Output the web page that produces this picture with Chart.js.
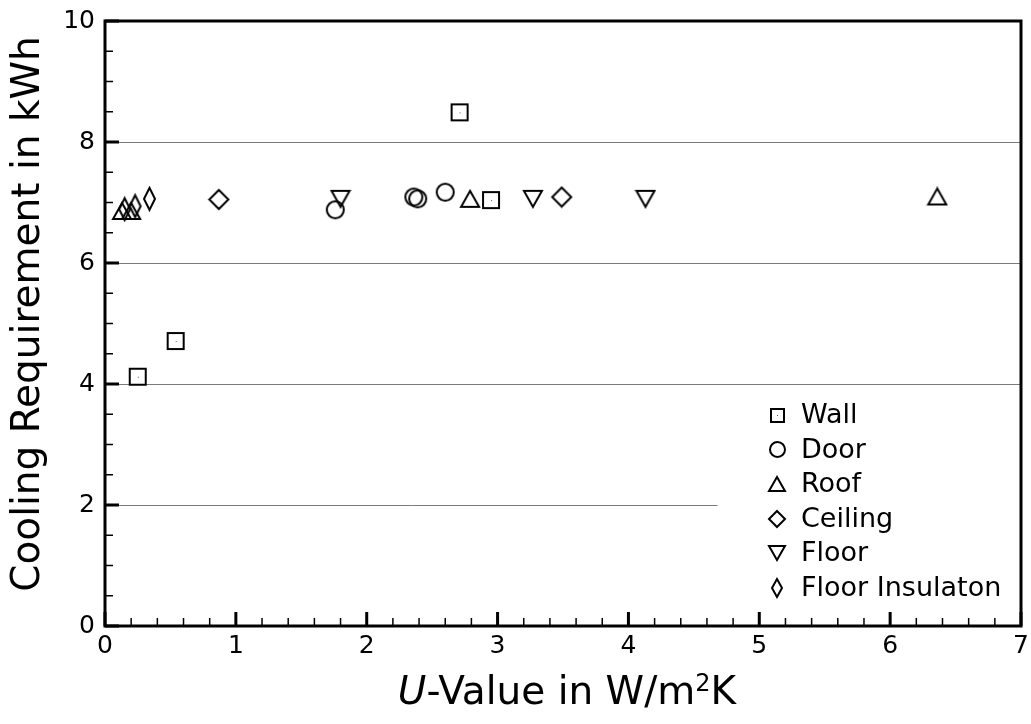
<!DOCTYPE html>
<html>
<head>
<meta charset="utf-8">
<script src="https://cdn.jsdelivr.net/npm/chart.js@4.4.0/dist/chart.umd.min.js"></script>
<style>
  html, body { margin: 0; padding: 0; background: #fff; }
  #wrap { width: 1031px; height: 724px; }
</style>
</head>
<body>
<div id="wrap"><canvas id="coolingChart"></canvas></div>
<script>
// values (U in W/m2K, cooling in kWh)
const seriesNames = ['Wall', 'Door', 'Roof', 'Ceiling', 'Floor', 'Floor Insulaton'];

const wallU = [0.25, 0.54, 2.71, 2.95];
const wallKWh = [4.12, 4.71, 8.49, 7.04];

const doorU = [1.76, 2.36, 2.39, 2.60];
const doorKWh = [6.88, 7.09, 7.06, 7.17];

const roofU = [0.13, 0.20, 2.79, 6.36];
const roofKWh = [6.86, 6.86, 7.06, 7.10];

const ceilingU = [0.87, 3.49];
const ceilingKWh = [7.05, 7.09];

const floorU = [1.80, 3.27, 4.13];
const floorKWh = [7.06, 7.06, 7.06];

const floorInsU = [0.15, 0.23, 0.34];
const floorInsKWh = [6.89, 6.94, 7.06];

const xTicks = [0, 1, 2, 3, 4, 5, 6, 7];
const yTicks = [0, 2, 4, 6, 8, 10];
const gridValues = [2, 4, 6, 8];

const FONT = "'DejaVu Sans', Verdana, sans-serif";

// hollow marker sprites
function makeMarker(shape, w, h) {
  const pad = 2;
  const c = document.createElement('canvas');
  c.width = w + pad * 2;
  c.height = h + pad * 2;
  const g = c.getContext('2d');
  g.strokeStyle = '#000';
  g.lineWidth = 2;
  g.lineJoin = 'miter';
  const cx = c.width / 2, cy = c.height / 2;
  g.beginPath();
  if (shape === 'square') {
    g.rect(pad, pad, w, h);
  } else if (shape === 'circle') {
    g.arc(cx, cy, w / 2, 0, Math.PI * 2);
  } else if (shape === 'up') {
    g.moveTo(cx, pad);
    g.lineTo(pad + w, pad + h);
    g.lineTo(pad, pad + h);
    g.closePath();
  } else if (shape === 'down') {
    g.moveTo(pad, pad);
    g.lineTo(pad + w, pad);
    g.lineTo(cx, pad + h);
    g.closePath();
  } else {
    g.moveTo(cx, pad);
    g.lineTo(pad + w, cy);
    g.lineTo(cx, pad + h);
    g.lineTo(pad, cy);
    g.closePath();
  }
  g.stroke();
  if (shape === 'square') {
    g.fillStyle = '#555';
    g.fillRect(Math.floor(cx), Math.floor(cy), 1, 1);
  }
  return c;
}

const markers = [
  makeMarker('square', 16, 16),
  makeMarker('circle', 17, 17),
  makeMarker('up', 18, 16),
  makeMarker('diamond', 19, 19),
  makeMarker('down', 18, 16),
  makeMarker('diamond', 11, 22)
];
const legendMarkers = [
  makeMarker('square', 13, 13),
  makeMarker('circle', 15, 15),
  makeMarker('up', 16, 14),
  makeMarker('diamond', 16, 16),
  makeMarker('down', 16, 14),
  makeMarker('diamond', 10, 18)
];

function toPoints(xs, ys) {
  return xs.map((x, i) => ({ x: x, y: ys[i] }));
}

const allData = [
  toPoints(wallU, wallKWh),
  toPoints(doorU, doorKWh),
  toPoints(roofU, roofKWh),
  toPoints(ceilingU, ceilingKWh),
  toPoints(floorU, floorKWh),
  toPoints(floorInsU, floorInsKWh)
];

// grid, frame, inward ticks and the legend box
const framePlugin = {
  id: 'frame',
  beforeDatasetsDraw(chart) {
    const { ctx, chartArea, scales } = chart;
    ctx.save();
    ctx.strokeStyle = '#7a7a7a';
    ctx.lineWidth = 1;
    gridValues.forEach(v => {
      const y = Math.round(scales.y.getPixelForValue(v)) + 0.5;
      // the 2 kWh line stops short of the legend
      const xEnd = v === 2 ? scales.x.getPixelForValue(4.68) : chartArea.right;
      ctx.beginPath();
      ctx.moveTo(chartArea.left, y);
      ctx.lineTo(xEnd, y);
      ctx.stroke();
    });
    ctx.restore();
  },
  afterDatasetsDraw(chart) {
    const { ctx, chartArea, scales } = chart;
    const { left, right, top, bottom } = chartArea;
    ctx.save();
    ctx.strokeStyle = '#000';

    // minor ticks
    ctx.lineWidth = 1.5;
    for (let i = 1; i < 35; i++) {
      if (i % 5 === 0) continue;
      const x = scales.x.getPixelForValue(i * 0.2);
      ctx.beginPath();
      ctx.moveTo(x, bottom);
      ctx.lineTo(x, bottom - 8);
      ctx.stroke();
    }
    for (let i = 1; i < 20; i++) {
      if (i % 4 === 0) continue;
      const y = scales.y.getPixelForValue(i * 0.5);
      ctx.beginPath();
      ctx.moveTo(left, y);
      ctx.lineTo(left + 8, y);
      ctx.stroke();
    }

    // major ticks
    ctx.lineWidth = 3;
    xTicks.forEach(v => {
      const x = scales.x.getPixelForValue(v);
      ctx.beginPath();
      ctx.moveTo(x, bottom);
      ctx.lineTo(x, bottom - 14);
      ctx.stroke();
    });
    yTicks.forEach(v => {
      const y = scales.y.getPixelForValue(v);
      ctx.beginPath();
      ctx.moveTo(left, y);
      ctx.lineTo(left + 14, y);
      ctx.stroke();
    });

    // frame
    ctx.lineWidth = 3;
    ctx.strokeRect(left, top, right - left, bottom - top);

    // legend
    const lx = 777, ly0 = 415, step = 34.5;
    ctx.fillStyle = '#000';
    ctx.font = '27px ' + FONT;
    ctx.textBaseline = 'middle';
    ctx.textAlign = 'left';
    seriesNames.forEach((name, i) => {
      const m = legendMarkers[i];
      const y = ly0 + i * step;
      ctx.drawImage(m, Math.round(lx - m.width / 2), Math.round(y - m.height / 2));
      ctx.fillText(name, 801, y + 1);
    });
    ctx.restore();
  }
};

// axis titles (x title has an italic U and a superscript 2)
const titlesPlugin = {
  id: 'axisTitles',
  afterDraw(chart) {
    const { ctx, scales } = chart;
    const size = 39;
    ctx.save();
    ctx.fillStyle = '#000';
    ctx.textBaseline = 'middle';

    ctx.textAlign = 'left';
    const parts = [
      { t: 'U', f: 'italic ' + size + 'px ' + FONT, dy: 0 },
      { t: '-Value in W/m', f: size + 'px ' + FONT, dy: 0 },
      { t: '2', f: Math.round(size * 0.62) + 'px ' + FONT, dy: -9 },
      { t: 'K', f: size + 'px ' + FONT, dy: 0 }
    ];
    let total = 0;
    parts.forEach(p => { ctx.font = p.f; p.w = ctx.measureText(p.t).width; total += p.w; });
    let x = (scales.x.left + scales.x.right) / 2 + 4 - total / 2;
    parts.forEach(p => {
      ctx.font = p.f;
      ctx.fillText(p.t, x, 694 + p.dy);
      x += p.w;
    });

    ctx.translate(29, 314);
    ctx.rotate(-Math.PI / 2);
    ctx.textAlign = 'center';
    ctx.font = size + 'px ' + FONT;
    ctx.fillText('Cooling Requirement in kWh', 0, 0);
    ctx.restore();
  }
};

function zeroPadding(s) {
  s.paddingTop = 0;
  s.paddingBottom = 0;
  s.paddingLeft = 0;
  s.paddingRight = 0;
}

const ctx = document.getElementById('coolingChart').getContext('2d');
const coolingChart = new Chart(ctx, {
  type: 'scatter',
  data: {
    datasets: seriesNames.map((name, i) => ({
      label: name,
      data: allData[i],
      pointStyle: markers[i],
      pointRadius: 9,
      pointHoverRadius: 9,
      showLine: false
    }))
  },
  options: {
    responsive: true,
    maintainAspectRatio: false,
    animation: false,
    devicePixelRatio: 1,
    layout: { padding: { top: 21, right: 9, left: 0, bottom: 0 } },
    plugins: {
      legend: { display: false },
      tooltip: { enabled: false }
    },
    scales: {
      x: {
        type: 'linear',
        min: 0,
        max: 7,
        afterFit: s => { s.height = 98; zeroPadding(s); },
        afterBuildTicks: s => { s.ticks = xTicks.map(v => ({ value: v })); },
        grid: { display: false, drawTicks: false },
        border: { display: false },
        ticks: { color: '#000', padding: 5, maxRotation: 0, font: { family: FONT, size: 25 } },
        title: { display: false }
      },
      y: {
        type: 'linear',
        min: 0,
        max: 10,
        afterFit: s => { s.width = 105; zeroPadding(s); },
        afterBuildTicks: s => { s.ticks = yTicks.map(v => ({ value: v })); },
        grid: { display: false, drawTicks: false },
        border: { display: false },
        ticks: { color: '#000', padding: 10, font: { family: FONT, size: 25 } },
        title: { display: false }
      }
    }
  },
  plugins: [framePlugin, titlesPlugin]
});
</script>
</body>
</html>
